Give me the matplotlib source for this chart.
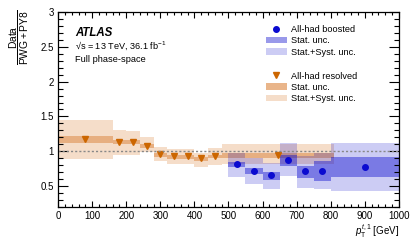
import matplotlib
matplotlib.use('Agg')
import matplotlib.pyplot as plt
from matplotlib.lines import Line2D
from matplotlib.patches import Patch
import numpy as np

plt.rcParams['font.family'] = ['Liberation Sans', 'DejaVu Sans']
plt.rcParams['mathtext.fontset'] = 'custom'
plt.rcParams['mathtext.rm'] = 'Liberation Sans'
plt.rcParams['mathtext.it'] = 'Liberation Sans:italic'

# 数据：resolved（橙色）
res_edges = [0, 160, 200, 240, 280, 320, 360, 400, 440, 480, 810]
res_val = [1.17, 1.13, 1.13, 1.08, 0.96, 0.925, 0.925, 0.90, 0.93, 0.95]
res_stat_lo = [1.11, 1.10, 1.10, 1.04, 0.91, 0.88, 0.88, 0.86, 0.895, 0.90]
res_stat_hi = [1.22, 1.16, 1.16, 1.10, 0.975, 0.94, 0.94, 0.92, 0.95, 0.98]
res_syst_lo = [0.885, 0.95, 0.95, 0.99, 0.855, 0.82, 0.82, 0.775, 0.80, 0.82]
res_syst_hi = [1.45, 1.30, 1.29, 1.20, 1.06, 1.03, 1.03, 0.98, 1.05, 1.10]

# 数据：boosted（蓝色）
bst_edges = [500, 550, 600, 650, 700, 750, 800, 1000]
bst_val = [0.81, 0.71, 0.65, 0.865, 0.71, 0.715, 0.77]
bst_stat_lo = [0.77, 0.67, 0.59, 0.78, 0.61, 0.57, 0.62]
bst_stat_hi = [0.84, 0.75, 0.70, 0.95, 0.79, 0.86, 0.91]
bst_syst_lo = [0.63, 0.52, 0.46, 0.64, 0.47, 0.45, 0.43]
bst_syst_hi = [0.98, 0.90, 0.83, 1.11, 0.93, 0.98, 1.11]

orange = '#d8782a'
blue = '#0000cc'

fig = plt.figure(figsize=(4.15, 2.46), dpi=100)
ax = fig.add_axes([0.140, 0.160, 0.821, 0.790])


def draw_set(edges, val, stat_lo, stat_hi, syst_lo, syst_hi, color, a_syst, a_stat, mcolor, marker, ms):
    edges = np.array(edges, dtype=float)
    left = edges[:-1]
    width = np.diff(edges)
    centers = left + width / 2
    ax.bar(left, np.array(syst_hi) - np.array(syst_lo), bottom=syst_lo, width=width,
           align='edge', color=color, alpha=a_syst, linewidth=0)
    ax.bar(left, np.array(stat_hi) - np.array(stat_lo), bottom=stat_lo, width=width,
           align='edge', color=color, alpha=a_stat, linewidth=0)
    ax.plot(centers, val, linestyle='none', marker=marker, color=mcolor, markersize=ms)


draw_set(res_edges, res_val, res_stat_lo, res_stat_hi, res_syst_lo, res_syst_hi,
         orange, 0.25, 0.45, '#cc6600', 'v', 4.8)
draw_set(bst_edges, bst_val, bst_stat_lo, bst_stat_hi, bst_syst_lo, bst_syst_hi,
         blue, 0.2, 0.4, '#0a0ad0', 'o', 4)

ax.axhline(1.0, color='#888888', linestyle=(0, (1.5, 1.5)), linewidth=1.0)

ax.set_xlim(0, 1000)
ax.set_ylim(0.2, 3)
ax.set_xticks(np.arange(0, 1001, 100))
ax.set_xticks(np.arange(0, 1001, 20), minor=True)
ax.set_yticks([0.5, 1, 1.5, 2, 2.5, 3])
ax.set_yticklabels(['0.5', '1', '1.5', '2', '2.5', '3'])
ax.set_yticks(np.arange(0.2, 3.001, 0.1), minor=True)
ax.tick_params(which='both', direction='in', top=True, right=True, labelsize=7, width=0.8)
ax.tick_params(axis='y', which='major', length=7, pad=3)
ax.tick_params(axis='y', which='minor', length=3.5)
ax.tick_params(axis='x', which='major', length=4.5, pad=3)
ax.tick_params(axis='x', which='minor', length=2.5)
for s in ax.spines.values():
    s.set_linewidth(0.9)

ax.set_xlabel(r'$p_{\mathrm{T}}^{t,1}$ [GeV]', fontsize=7, loc='right', labelpad=1)
# y轴标签（分数形式，靠上）
fig.text(0.047, 0.848, r'$\dfrac{\mathrm{Data}}{\mathrm{PWG+PY8}}$', fontsize=7.4,
         rotation=90, ha='center', va='center')

ax.text(0.049, 0.878, 'ATLAS', transform=ax.transAxes, fontsize=8.3,
        fontweight='bold', fontstyle='italic')
ax.text(0.049, 0.814, '\u221as = 13 TeV, 36.1 fb$^{-1}$', transform=ax.transAxes, fontsize=6.6)
ax.text(0.049, 0.744, 'Full phase-space', transform=ax.transAxes, fontsize=6.7)

# 图例（两组）
h1 = [Line2D([], [], linestyle='none', marker='o', color='#0a0ad0', markersize=4),
      Patch(facecolor=blue, alpha=0.4, linewidth=0),
      Patch(facecolor=blue, alpha=0.2, linewidth=0)]
h2 = [Line2D([], [], linestyle='none', marker='v', color='#cc6600', markersize=4.8),
      Patch(facecolor=orange, alpha=0.55, linewidth=0),
      Patch(facecolor=orange, alpha=0.25, linewidth=0)]
labels = ['All-had boosted', 'Stat. unc.', 'Stat.+Syst. unc.']
labels2 = ['All-had resolved', 'Stat. unc.', 'Stat.+Syst. unc.']
kw = dict(frameon=False, fontsize=6.6, loc='upper left', borderpad=0,
          handlelength=2.3, handletextpad=0.5, labelspacing=0.25, borderaxespad=0)
leg1 = ax.legend(h1, labels, bbox_to_anchor=(0.609, 0.935), **kw)
ax.add_artist(leg1)
ax.legend(h2, labels2, bbox_to_anchor=(0.609, 0.695), **kw)

plt.savefig('out.png', dpi=100)
